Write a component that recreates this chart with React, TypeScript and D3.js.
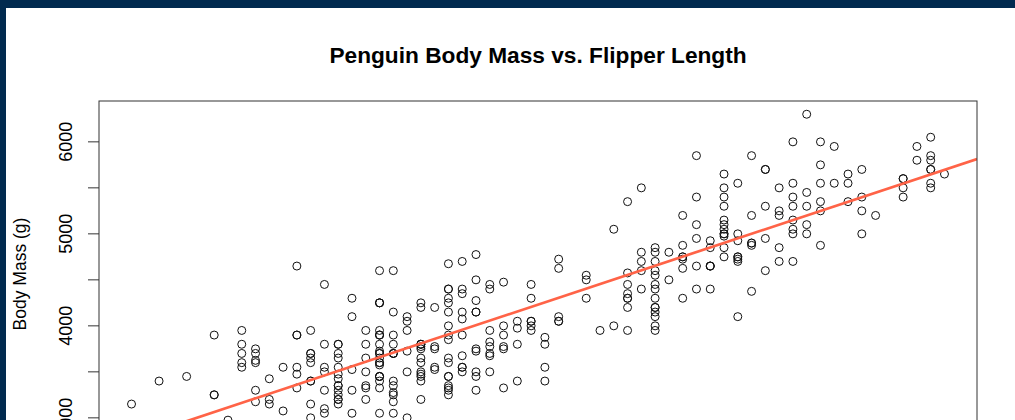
import React, { useEffect, useRef } from 'react';
import * as d3 from 'd3';

// Palmer penguins: flipper length (mm) and body mass (g), rows with NA removed
const adelieFlipper = [
  181, 186, 195, 193, 190, 181, 195, 193, 190, 186, 180, 182, 191, 198, 185, 195, 197, 184, 194, 174,
  180, 189, 185, 180, 187, 183, 187, 172, 180, 178, 178, 188, 184, 195, 196, 190, 180, 181, 184, 182,
  195, 186, 196, 185, 190, 182, 179, 190, 191, 186, 188, 190, 200, 187, 191, 186, 193, 181, 194, 185,
  195, 185, 192, 184, 192, 195, 188, 190, 198, 190, 190, 196, 197, 190, 195, 191, 184, 187, 195, 189,
  196, 187, 193, 191, 194, 190, 189, 189, 190, 202, 205, 185, 186, 187, 208, 190, 196, 178, 192, 192,
  203, 183, 190, 193, 184, 199, 190, 181, 197, 198, 191, 193, 197, 191, 196, 188, 199, 189, 189, 187,
  198, 176, 202, 186, 199, 191, 195, 191, 210, 190, 197, 193, 199, 187, 190, 191, 200, 185, 193, 193,
  187, 188, 190, 192, 185, 190, 184, 195, 193, 187, 201,
];
const adelieMass = [
  3750, 3800, 3250, 3450, 3650, 3625, 4675, 3475, 4250, 3300, 3700, 3200, 3800, 4400, 3700, 3450, 4500, 3325, 4200, 3400,
  3600, 3800, 3950, 3800, 3800, 3550, 3200, 3150, 3950, 3250, 3900, 3300, 3900, 3325, 4150, 3950, 3550, 3300, 4650, 3150,
  3900, 3100, 4400, 3000, 4600, 3425, 2975, 3450, 4150, 3500, 4300, 3450, 4050, 2900, 3700, 3550, 3800, 2850, 3750, 3150,
  4400, 3600, 4050, 2850, 3950, 3350, 4100, 3050, 4450, 3600, 3900, 3550, 4150, 3700, 4250, 3700, 3900, 3550, 4000, 3200,
  4700, 3800, 4200, 3350, 3550, 3800, 3500, 3950, 3600, 3550, 4300, 3400, 4450, 3300, 4300, 3700, 4350, 2900, 4100, 3725,
  4725, 3075, 4250, 2925, 3550, 3750, 3900, 3175, 4775, 3825, 4600, 3200, 4275, 3900, 4075, 2900, 3775, 3350, 3325, 3150,
  3500, 3450, 3875, 3050, 4000, 3275, 4300, 3050, 4000, 3325, 3500, 3500, 4475, 3425, 3900, 3175, 3975, 3400, 4250, 3400,
  3475, 3050, 3725, 3000, 3650, 4250, 3475, 3450, 3750, 3700, 4000,
];
const gentooFlipper = [
  211, 230, 210, 218, 215, 210, 211, 219, 209, 215, 214, 216, 214, 213, 210, 217, 210, 221, 209, 222,
  218, 215, 213, 215, 215, 215, 216, 215, 210, 220, 222, 209, 207, 230, 220, 220, 213, 219, 208, 208,
  208, 225, 210, 216, 222, 217, 210, 225, 213, 215, 210, 220, 210, 225, 217, 220, 208, 220, 208, 224,
  208, 221, 214, 231, 219, 230, 214, 229, 220, 223, 216, 221, 221, 217, 216, 230, 209, 220, 215, 223,
  212, 221, 212, 224, 212, 228, 218, 218, 212, 230, 218, 228, 212, 224, 214, 226, 216, 222, 203, 225,
  219, 228, 215, 228, 216, 215, 210, 219, 208, 209, 216, 229, 213, 230, 217, 230, 217, 222, 214, 215,
  222, 212, 213,
];
const gentooMass = [
  4500, 5700, 4450, 5700, 5400, 4550, 4800, 5200, 4400, 5150, 4650, 5550, 4650, 5850, 4200, 5850, 4150, 6300, 4800, 5350,
  5700, 5000, 4400, 5050, 5000, 5100, 4100, 5650, 4600, 5550, 5250, 4700, 5050, 6050, 5150, 5400, 4950, 5250, 4350, 5350,
  3950, 5700, 4300, 4750, 5550, 4900, 4200, 5400, 5100, 5300, 4850, 5300, 4400, 5000, 4900, 5050, 4300, 5000, 4450, 5550,
  4200, 5300, 4400, 5650, 4700, 5700, 4650, 5800, 4700, 5550, 4750, 5000, 5100, 5200, 4700, 5800, 4600, 6000, 4750, 5950,
  4625, 5450, 4725, 5350, 4750, 5600, 4600, 5300, 4875, 5550, 4950, 5400, 4750, 5650, 4850, 5200, 4925, 4875, 4625, 5250,
  4850, 5600, 4975, 5500, 4725, 5500, 4700, 5500, 4575, 5500, 5000, 5950, 4650, 5500, 4375, 5850, 4875, 6000, 4925, 4850,
  5750, 5200, 5400,
];
const chinstrapFlipper = [
  192, 196, 193, 188, 197, 198, 178, 197, 195, 198, 193, 194, 185, 201, 190, 201, 197, 181, 190, 195,
  181, 191, 187, 193, 195, 197, 200, 200, 191, 205, 187, 201, 187, 203, 195, 199, 195, 210, 192, 205,
  210, 187, 196, 196, 196, 201, 190, 212, 187, 198, 199, 201, 193, 203, 187, 197, 191, 203, 202, 194,
  206, 189, 195, 207, 202, 193, 210, 198,
];
const chinstrapMass = [
  3500, 3900, 3650, 3525, 3725, 3950, 3250, 3750, 4150, 3700, 3800, 3775, 3700, 4050, 3575, 4050, 3300, 3700, 3450, 4400,
  3600, 3400, 2900, 3800, 3300, 4150, 3400, 3800, 3700, 4550, 3200, 4300, 3350, 4100, 3600, 3900, 3850, 4800, 2700, 4500,
  3950, 3650, 3550, 3500, 3675, 4450, 3400, 4300, 3250, 3675, 3325, 3950, 3600, 4050, 3350, 3450, 3250, 4050, 3800, 3525,
  3950, 3650, 3650, 4000, 3400, 3775, 4100, 3775,
];

const yTicks = [3000, 3500, 4000, 4500, 5000, 5500, 6000];
const yTickLabels = ['3000', '', '4000', '', '5000', '', '6000'];

const title = 'Penguin Body Mass vs. Flipper Length';
const yLabel = 'Body Mass (g)';

const W = 1015;
const H = 420;
const plot = { left: 99, right: 977, top: 101, bottom: 458.7 };

const App: React.FC = () => {
  const ref = useRef<SVGSVGElement>(null);

  useEffect(() => {
    if (!ref.current) return;
    const flipper = [...adelieFlipper, ...gentooFlipper, ...chinstrapFlipper];
    const mass = [...adelieMass, ...gentooMass, ...chinstrapMass];
    const pts = flipper.map((f, i) => ({ x: f, y: mass[i] }));

    // R-style 4% padding on each side
    const [x0, x1] = d3.extent(flipper) as [number, number];
    const [y0, y1] = d3.extent(mass) as [number, number];
    const px = (x1 - x0) * 0.04;
    const py = (y1 - y0) * 0.04;
    const x = d3.scaleLinear().domain([x0 - px, x1 + px]).range([plot.left, plot.right]);
    const y = d3.scaleLinear().domain([y0 - py, y1 + py]).range([plot.bottom, plot.top]);

    // least squares fit (abline(lm(...)))
    const mx = d3.mean(flipper)!;
    const my = d3.mean(mass)!;
    const slope = d3.sum(pts, p => (p.x - mx) * (p.y - my)) / d3.sum(pts, p => (p.x - mx) ** 2);
    const intercept = my - slope * mx;

    const svg = d3.select(ref.current);
    svg.selectAll('*').remove();

    svg.append('rect').attr('width', W).attr('height', H).attr('fill', '#ffffff');
    // dark frame on top and left
    svg.append('rect').attr('x', 0).attr('y', 0).attr('width', W).attr('height', 8).attr('fill', '#012a4f');
    svg.append('rect').attr('x', 0).attr('y', 0).attr('width', 6).attr('height', H).attr('fill', '#012a4f');

    svg.append('defs').append('clipPath').attr('id', 'plotclip')
      .append('rect')
      .attr('x', plot.left).attr('y', plot.top)
      .attr('width', plot.right - plot.left).attr('height', plot.bottom - plot.top);

    svg.append('g')
      .selectAll('circle')
      .data(pts)
      .enter().append('circle')
      .attr('cx', d => x(d.x))
      .attr('cy', d => y(d.y))
      .attr('r', 4)
      .attr('fill', 'none')
      .attr('stroke', '#111')
      .attr('stroke-width', 1);

    const [dx0, dx1] = x.domain();
    svg.append('line')
      .attr('clip-path', 'url(#plotclip)')
      .attr('x1', x(dx0)).attr('y1', y(intercept + slope * dx0))
      .attr('x2', x(dx1)).attr('y2', y(intercept + slope * dx1))
      .attr('stroke', '#ff6347')
      .attr('stroke-width', 2.7);

    svg.append('rect')
      .attr('x', plot.left).attr('y', plot.top)
      .attr('width', plot.right - plot.left).attr('height', plot.bottom - plot.top)
      .attr('fill', 'none')
      .attr('stroke', '#333')
      .attr('stroke-width', 1);

    // y axis ticks
    const ax = svg.append('g');
    ax.selectAll('line')
      .data(yTicks)
      .enter().append('line')
      .attr('x1', plot.left - 11).attr('x2', plot.left)
      .attr('y1', d => y(d)).attr('y2', d => y(d))
      .attr('stroke', '#333');
    ax.selectAll('text')
      .data(yTicks)
      .enter().append('text')
      .attr('transform', d => `translate(72,${y(d)}) rotate(-90)`)
      .attr('text-anchor', 'middle')
      .style('font-family', '"Liberation Sans", Arial, sans-serif')
      .style('font-size', '18px')
      .text((d, i) => yTickLabels[i]);

    svg.append('text')
      .attr('transform', `translate(26,274) rotate(-90)`)
      .attr('text-anchor', 'middle')
      .style('font-family', '"Liberation Sans", Arial, sans-serif')
      .style('font-size', '17.5px')
      .text(yLabel);

    svg.append('text')
      .attr('x', (plot.left + plot.right) / 2)
      .attr('y', 63)
      .attr('text-anchor', 'middle')
      .style('font-family', '"Liberation Sans", Arial, sans-serif')
      .style('font-size', '22.7px')
      .style('font-weight', 'bold')
      .text(title);
  }, []);

  return (
    <svg ref={ref} width={W} height={H} style={{ position: 'absolute', left: 0, top: 0, display: 'block' }}></svg>
  );
};

export default App;
